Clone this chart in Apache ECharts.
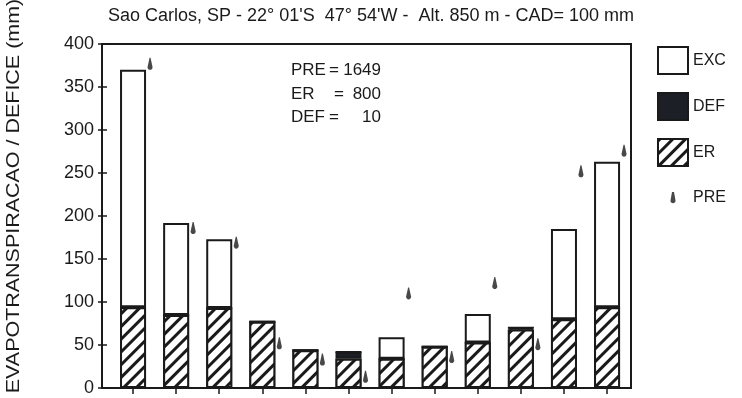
<!DOCTYPE html>
<html>
<head>
<meta charset="utf-8">
<style>
  html, body { margin: 0; padding: 0; background: #ffffff; }
  #chart { width: 742px; height: 398px; }
</style>
<script src="https://cdn.jsdelivr.net/npm/echarts@6/dist/echarts.min.js"></script>
</head>
<body>
<div id="chart"></div>
<script>
// ---- data ----
var months = ['Jan', 'Fev', 'Mar', 'Abr', 'Mai', 'Jun', 'Jul', 'Ago', 'Set', 'Out', 'Nov', 'Dez'];
var erValues  = [94, 85, 93, 77, 44, 34, 34, 48, 53, 68, 80, 94];
var defValues = [0, 0, 0, 0, 0, 8, 0, 0, 0, 2, 0, 0];
var excValues = [276, 107, 80, 0, 0, 0, 25, 0, 33, 0, 105, 169];
var preValues = [377, 186, 169, 52, 33, 13, 110, 36, 122, 51, 252, 276];
var yTicks = [0, 50, 100, 150, 200, 250, 300, 350, 400];
var titleText = "Sao Carlos, SP - 22\u00b0 01'S  47\u00b0 54'W -  Alt. 850 m - CAD= 100 mm";
var yName = 'EVAPOTRANSPIRACAO / DEFICE (mm)';
var statLabels = ['PRE', 'ER', 'DEF'];
var statValues = ['1649', '800', '10'];

// ---- style ----
var INK = '#1a1a1a';
var FONT = '"Liberation Sans", Arial, Helvetica, sans-serif';
var hatch = {
  symbol: 'rect', symbolSize: 1,
  dashArrayX: [1, 0], dashArrayY: [3, 6],
  rotation: -Math.PI / 4,
  color: INK, backgroundColor: '#ffffff'
};
var markerPath = 'path://M2,0 L3,0 L5,8.5 C5.3,12 -0.3,12 0,8.5 Z';
var legendMarker = 'path://M0,0 L0.01,0 L0.01,0.01 Z M30,27 L29.99,27 L29.99,26.99 Z M14,8 L16,8 L17.5,16.5 C17.8,20 12.2,20 12.5,16.5 Z';

var chart = echarts.init(document.getElementById('chart'), null, { renderer: 'canvas' });

var mainGrid = { left: 111.5, right: 113.4, top: 44, bottom: 10 };
var frameGrid = { left: 102, right: 111, top: 44, bottom: 10, show: true, borderColor: INK, borderWidth: 2, backgroundColor: 'transparent' };

var eqY = [70, 94, 117];
var eqX = [334, 339, 334];
var graphics = [
  { type: 'text', x: 14, y: 196, rotation: Math.PI / 2, scaleX: 1.13,
    style: { text: yName, font: '19px ' + FONT, fill: INK, align: 'center', verticalAlign: 'middle' } }
];
for (var i = 0; i < statLabels.length; i++) {
  graphics.push({ type: 'text', x: 291, y: eqY[i], style: { text: statLabels[i], font: '17px ' + FONT, fill: INK, align: 'left', verticalAlign: 'middle' } });
  graphics.push({ type: 'text', x: eqX[i], y: eqY[i], style: { text: '=', font: '17px ' + FONT, fill: INK, align: 'center', verticalAlign: 'middle' } });
  graphics.push({ type: 'text', x: 381, y: eqY[i], style: { text: statValues[i], font: '17px ' + FONT, fill: INK, align: 'right', verticalAlign: 'middle' } });
}

var option = {
  animation: false,
  backgroundColor: '#ffffff',
  title: {
    text: titleText, left: 'center', top: 2,
    textStyle: { fontFamily: FONT, fontSize: 18, fontWeight: 'normal', color: INK }
  },
  legend: {
    orient: 'vertical', left: 652, top: 41,
    itemWidth: 30, itemHeight: 27, itemGap: 17,
    textStyle: { fontFamily: FONT, fontSize: 16, color: INK },
    data: [
      { name: 'EXC', icon: 'rect' },
      { name: 'DEF', icon: 'rect' },
      { name: 'ER', icon: 'rect' },
      { name: 'PRE', icon: legendMarker }
    ]
  },
  grid: [mainGrid, frameGrid],
  xAxis: [
    { type: 'category', gridIndex: 0, data: months, boundaryGap: true,
      axisLine: { show: false },
      axisTick: { show: true, alignWithLabel: true, length: 6, lineStyle: { color: INK, width: 1.5 } },
      axisLabel: { show: false }, splitLine: { show: false } },
    { type: 'value', gridIndex: 1, show: false, min: 0, max: 1 }
  ],
  yAxis: [
    { type: 'value', gridIndex: 0, min: 0, max: 400, interval: 50, offset: 9.5,
      axisLine: { show: false },
      axisTick: { show: true, inside: false, length: 4, lineStyle: { color: INK, width: 1.5 } },
      axisLabel: { margin: 8, fontFamily: FONT, fontSize: 18, color: INK,
        formatter: function (v) { return yTicks.indexOf(v) >= 0 ? String(v) : ''; } },
      splitLine: { show: false } },
    { type: 'value', gridIndex: 0, min: 0, max: 400, interval: 50, offset: 9.5, position: 'left',
      axisLine: { show: false },
      axisTick: { show: true, inside: true, length: 5, lineStyle: { color: INK, width: 1.5 } },
      axisLabel: { show: false }, splitLine: { show: false } },
    { type: 'value', gridIndex: 1, show: false, min: 0, max: 1 }
  ],
  graphic: graphics,
  series: [
    { name: 'ER', type: 'bar', stack: 'total', xAxisIndex: 0, yAxisIndex: 0, barWidth: 26,
      data: erValues,
      itemStyle: { color: '#ffffff', borderColor: INK, borderWidth: 2, decal: hatch } },
    { name: 'DEF', type: 'bar', stack: 'total', xAxisIndex: 0, yAxisIndex: 0, barWidth: 26,
      data: defValues,
      itemStyle: { color: '#1c1f26', borderColor: INK, borderWidth: 2 } },
    { name: 'EXC', type: 'bar', stack: 'total', xAxisIndex: 0, yAxisIndex: 0, barWidth: 26,
      data: excValues,
      itemStyle: { color: '#ffffff', borderColor: INK, borderWidth: 2 } },
    { name: 'PRE', type: 'scatter', xAxisIndex: 0, yAxisIndex: 0,
      data: preValues, symbol: markerPath, symbolSize: [5, 12], symbolOffset: [17, 0],
      itemStyle: { color: INK }, z: 5 }
  ]
};
chart.setOption(option);
</script>
</body>
</html>
